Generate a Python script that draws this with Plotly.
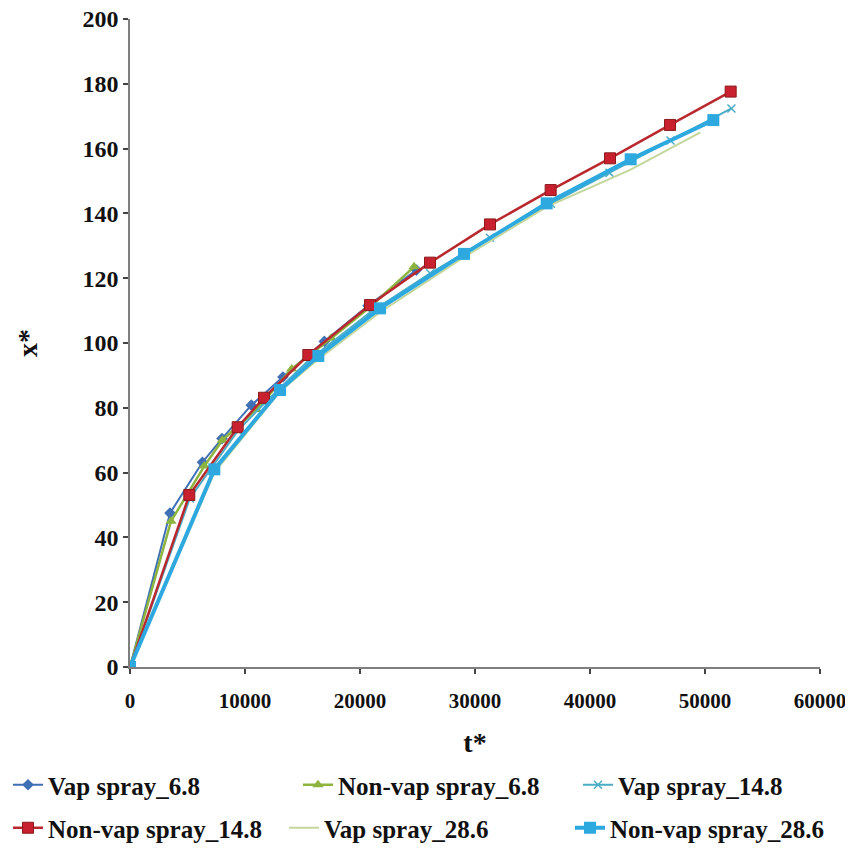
import plotly.graph_objects as go

# ---- data ----
names = ["Vap spray_6.8", "Non-vap spray_6.8", "Vap spray_14.8",
         "Non-vap spray_14.8", "Vap spray_28.6", "Non-vap spray_28.6"]

t_vap_68 = [0, 3480, 6300, 8000, 10550, 13300, 16900, 20700, 24900]
x_vap_68 = [0, 47.5, 63.2, 70.5, 80.8, 89.5, 100.5, 111.5, 122.5]

t_nonvap_68 = [0, 3565, 6460, 8030, 11000, 14060, 17500, 21000, 24700]
x_nonvap_68 = [0, 45.0, 62.0, 70.0, 79.5, 92.0, 101.5, 111.5, 123.5]

t_vap_148 = [0, 5200, 9400, 11700, 15500, 20900, 26100, 31300, 36600, 41700, 47000, 52300]
x_vap_148 = [0, 52.0, 73.0, 81.5, 94.5, 109.5, 121.5, 132.5, 143.0, 152.5, 162.5, 172.4]

t_nonvap_148 = [0, 5157, 9362, 11652, 15507, 20870, 26087, 31304, 36580, 41739, 46957, 52232]
x_nonvap_148 = [0, 53.1, 74.0, 83.1, 96.3, 111.7, 124.8, 136.6, 147.2, 157.0, 167.3, 177.6]

t_vap_286 = [0, 7333, 13043, 16377, 21739, 29043, 36232, 43536, 49600]
x_vap_286 = [0, 60.0, 85.0, 95.0, 109.5, 126.5, 142.0, 153.5, 165.0]

t_nonvap_286 = [0, 7333, 13043, 16377, 21739, 29043, 36232, 43536, 50725]
x_nonvap_286 = [0, 61.0, 85.5, 96.0, 110.7, 127.5, 143.1, 156.7, 168.8]

x_ticks = [0, 10000, 20000, 30000, 40000, 50000, 60000]
y_ticks = [0, 20, 40, 60, 80, 100, 120, 140, 160, 180, 200]

FONT = "Liberation Serif"
OFF = 8                     # the page body adds an 8px margin around the figure
W, H = 853 - OFF, 848 - OFF

fig = go.Figure()

series = [
    (t_vap_68, x_vap_68, dict(color="#3F6FB5", width=2),
     dict(symbol="diamond", size=9, color="#3F6FB5")),
    (t_nonvap_68, x_nonvap_68, dict(color="#8DB43F", width=2.5),
     dict(symbol="triangle-up", size=10, color="#8DB43F")),
    (t_vap_148, x_vap_148, dict(color="#4BACC6", width=2),
     dict(symbol="x-thin", size=8, color="#4BACC6", line=dict(color="#4BACC6", width=1.5))),
    (t_nonvap_148, x_nonvap_148, dict(color="#B8282E", width=2.5),
     dict(symbol="square", size=11, color="#C8202F", line=dict(color="#8B1A1A", width=1))),
    (t_vap_286, x_vap_286, dict(color="#C3D69B", width=2),
     None),
    (t_nonvap_286, x_nonvap_286, dict(color="#2EA9E0", width=4),
     dict(symbol="square", size=12, color="#2EA9E0")),
]

# legend slots in page pixels: (text start x, row centre y)
legend_pos = [(50, 785), (340, 785), (620, 785), (46, 828), (326, 828), (612, 828)]
legend_ids = ["legend", "legend2", "legend3", "legend4", "legend5", "legend6"]

for name, (tx, yx, ln, mk), lid in zip(names, series, legend_ids):
    fig.add_trace(go.Scatter(
        x=tx, y=yx, name=name,
        mode="lines+markers" if mk else "lines",
        line=ln, marker=mk if mk else None,
        legend=lid,
    ))

legend_font = dict(family=FONT, size=25, color="#111111", weight="bold")
leg_layout = {}
for lid, (tx0, yc) in zip(legend_ids, legend_pos):
    leg_layout[lid] = dict(
        orientation="h", xref="container", yref="container",
        x=(tx0 - OFF - 42) / W, xanchor="left", y=1 - (yc - OFF) / H, yanchor="middle",
        font=legend_font, bgcolor="rgba(0,0,0,0)", borderwidth=0,
        itemwidth=30,
    )

fig.update_layout(
    width=W, height=H,
    margin=dict(l=130 - OFF, r=853 - 820, t=19 - OFF, b=848 - 667),
    paper_bgcolor="white", plot_bgcolor="white",
    showlegend=True,
    xaxis=dict(
        range=[0, 60000], tickvals=x_ticks, ticktext=[str(v) for v in x_ticks],
        showgrid=False, zeroline=False, showline=True, linecolor="#7f7f7f", linewidth=1.5,
        ticks="outside", ticklen=5, tickcolor="#444444", tickwidth=1.5,
        tickfont=dict(family=FONT, size=21, color="#111111", weight="bold"),
        ticklabelstandoff=9, automargin=False, ticklabeloverflow="allow",
        title=dict(text="t*", font=dict(family=FONT, size=28, color="#111111", weight="bold"), standoff=20),
    ),
    yaxis=dict(
        range=[0, 200], tickvals=y_ticks,
        showgrid=False, zeroline=False, showline=True, linecolor="#7f7f7f", linewidth=1.5,
        ticks="outside", ticklen=5, tickcolor="#444444", tickwidth=1.5,
        tickfont=dict(family=FONT, size=24, color="#111111", weight="bold"),
        automargin=False, ticklabeloverflow="allow",
        title=dict(text="x*", font=dict(family=FONT, size=28, color="#111111", weight="bold"), standoff=37),
    ),
    **leg_layout,
)

fig.write_html("out.html")
